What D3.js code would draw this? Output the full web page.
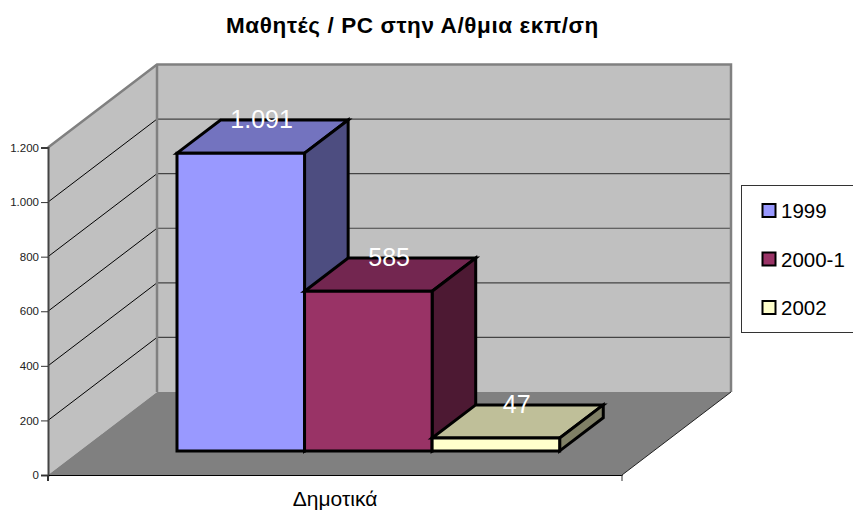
<!DOCTYPE html>
<html>
<head>
<meta charset="utf-8">
<script src="https://cdn.jsdelivr.net/npm/d3@7"></script>
<style>
  html, body { margin: 0; padding: 0; background: #fff; }
  svg { display: block; }
  text { font-family: "Liberation Sans", Arial, sans-serif; }
</style>
</head>
<body>
<div id="chart"></div>
<script>
// Data
const categories = ["Δημοτικά"];
const seriesNames = ["1999", "2000-1", "2002"];
const seriesValues = [1091, 585, 47];
const yTicks = [0, 200, 400, 600, 800, 1000, 1200];
const chartTitle = "Μαθητές / PC στην Α/θμια εκπ/ση";

// front, top and side face of each series
const COLORS = {
  "1999":   { front: "#9999FF", top: "#7373BF", side: "#4D4D80" },
  "2000-1": { front: "#993366", top: "#732650", side: "#4D1933" },
  "2002":   { front: "#FFFFCC", top: "#BFBF99", side: "#808066" }
};

const W = 853, H = 510;
const svg = d3.select("#chart").append("svg").attr("width", W).attr("height", H);

// ── Scales ──────────────────────────────────
const yScale = d3.scaleLinear().domain([0, 1200]).range([475, 147.5]);
const catScale = d3.scaleBand().domain(categories).range([48, 622]);
const xScale = d3.scaleBand().domain(seriesNames)
  .range([catScale(categories[0]), catScale(categories[0]) + catScale.bandwidth()])
  .paddingInner(0).paddingOuter(0.75).align(0.509);
// depth runs 0 (front of floor) to 1 (back wall)
const depthX = d3.scaleLinear().domain([0, 1]).range([0, 109]);
const depthY = d3.scaleLinear().domain([0, 1]).range([0, -83]);
const BAR_D0 = 0.29, BAR_D1 = 0.69;

const X0 = catScale.range()[0], X1 = catScale.range()[1];
const V0 = yScale.domain()[0], V1 = yScale.domain()[1];

// x in the front plane, value, depth -> screen point
function pt(x, v, d) { return [x + depthX(d), yScale(v) + depthY(d)]; }
function face(sel, pts, fill, stroke, sw) {
  return sel.append("path")
    .attr("d", d3.line()(pts) + "Z")
    .attr("fill", fill)
    .attr("stroke", stroke || "none")
    .attr("stroke-width", sw || 0)
    .attr("stroke-linejoin", "miter");
}

// ── Title ───────────────────────────────────
svg.append("text")
  .attr("x", 412.5).attr("y", 33)
  .attr("text-anchor", "middle")
  .attr("font-size", "22.5px").attr("font-weight", "bold")
  .attr("letter-spacing", "0.6px")
  .attr("fill", "#000").text(chartTitle);

// ── Walls and floor ─────────────────────────
face(svg, [pt(X0, V0, 1), pt(X1, V0, 1), pt(X1, V1, 1), pt(X0, V1, 1)], "#C0C0C0");
face(svg, [pt(X0, V0, 0), pt(X0, V0, 1), pt(X0, V1, 1), pt(X0, V1, 0)], "#C0C0C0");
face(svg, [pt(X0, V0, 0), pt(X1, V0, 0), pt(X1, V0, 1), pt(X0, V0, 1)], "#808080");

// ── Grid lines ──────────────────────────────
yTicks.filter(v => v > 0 && v < 1200).forEach(v => {
  const a = pt(X0, v, 0), b = pt(X0, v, 1), c = pt(X1, v, 1);
  svg.append("line").attr("x1", a[0]).attr("y1", a[1]).attr("x2", b[0]).attr("y2", b[1])
    .attr("stroke", "#000").attr("stroke-width", 1);
  svg.append("line").attr("x1", b[0]).attr("y1", b[1]).attr("x2", c[0]).attr("y2", c[1])
    .attr("stroke", "#444").attr("stroke-width", 1.2);
});

// wall outlines
svg.append("path")
  .attr("d", d3.line()([pt(X0, V1, 0), pt(X0, V1, 1), pt(X1, V1, 1), pt(X1, V0, 1)]))
  .attr("fill", "none").attr("stroke", "#808080").attr("stroke-width", 2.5);
svg.append("path")
  .attr("d", d3.line()([pt(X0, V1, 1), pt(X0, V0, 1)]))
  .attr("fill", "none").attr("stroke", "#808080").attr("stroke-width", 2.5);
svg.append("path")
  .attr("d", d3.line()([pt(X1, V0, 0), pt(X1, V0, 1)]))
  .attr("fill", "none").attr("stroke", "#222").attr("stroke-width", 1);

// ── Bars ────────────────────────────────────
const numFmt = d3.formatLocale({ decimal: ",", thousands: ".", grouping: [3], currency: ["", ""] }).format(",");
const bw = xScale.bandwidth();

seriesNames.forEach((name, i) => {
  const v = seriesValues[i], x = xScale(name), c = COLORS[name];
  face(svg, [pt(x, v, BAR_D0), pt(x + bw, v, BAR_D0), pt(x + bw, v, BAR_D1), pt(x, v, BAR_D1)], c.top, "#000", 3);
  face(svg, [pt(x + bw, 0, BAR_D0), pt(x + bw, 0, BAR_D1), pt(x + bw, v, BAR_D1), pt(x + bw, v, BAR_D0)], c.side, "#000", 3);
  face(svg, [pt(x, 0, BAR_D0), pt(x + bw, 0, BAR_D0), pt(x + bw, v, BAR_D0), pt(x, v, BAR_D0)], c.front, "#000", 3);
});

// data labels go over all the bars
seriesNames.forEach((name, i) => {
  const v = seriesValues[i], x = xScale(name);
  const p = pt(x + bw / 2, v, (BAR_D0 + BAR_D1) / 2);
  svg.append("text")
    .attr("x", p[0] - 1).attr("y", p[1] - 9)
    .attr("text-anchor", "middle").attr("font-size", "25px")
    .attr("fill", "#fff").text(numFmt(v));
});

// ── Axes ────────────────────────────────────
const yAxis = svg.append("g").attr("transform", `translate(${X0},0)`)
  .call(d3.axisLeft(yScale).tickValues(yTicks).tickSize(7).tickPadding(2)
    .tickFormat(numFmt));
yAxis.select(".domain").attr("stroke", "#444").attr("stroke-width", 2);
yAxis.selectAll(".tick line").attr("stroke", "#333");
yAxis.selectAll("text").attr("font-size", "11.5px").attr("fill", "#222")
  .attr("font-family", "'Liberation Sans',Arial,sans-serif");

const xAxis = svg.append("g").attr("transform", `translate(0,${yScale(0)})`)
  .call(d3.axisBottom(catScale).tickSize(0).tickPadding(16));
xAxis.select(".domain").attr("stroke", "#000").attr("stroke-width", 1.2);
xAxis.selectAll("text").attr("font-size", "21px").attr("fill", "#000")
  .attr("font-family", "'Liberation Sans',Arial,sans-serif");
[X0, X1].forEach(x => {
  svg.append("line").attr("x1", x).attr("x2", x)
    .attr("y1", yScale(0)).attr("y2", yScale(0) + 6)
    .attr("stroke", "#333").attr("stroke-width", x === X0 ? 2 : 1);
});

// ── Legend ──────────────────────────────────
const legend = svg.append("g");
legend.append("rect")
  .attr("x", 741.5).attr("y", 185.5).attr("width", 112).attr("height", 147)
  .attr("fill", "#fff").attr("stroke", "#333").attr("stroke-width", 1);
const legendY = d3.scalePoint().domain(seriesNames).range([210.5, 307.5]);
seriesNames.forEach(name => {
  const ly = legendY(name);
  legend.append("rect")
    .attr("x", 762.5).attr("y", ly - 6.5).attr("width", 13).attr("height", 13)
    .attr("fill", COLORS[name].front).attr("stroke", "#000").attr("stroke-width", 2);
  legend.append("text")
    .attr("x", 781).attr("y", ly + 7.5)
    .attr("font-size", "20.5px").attr("fill", "#000").text(name);
});
</script>
</body>
</html>
